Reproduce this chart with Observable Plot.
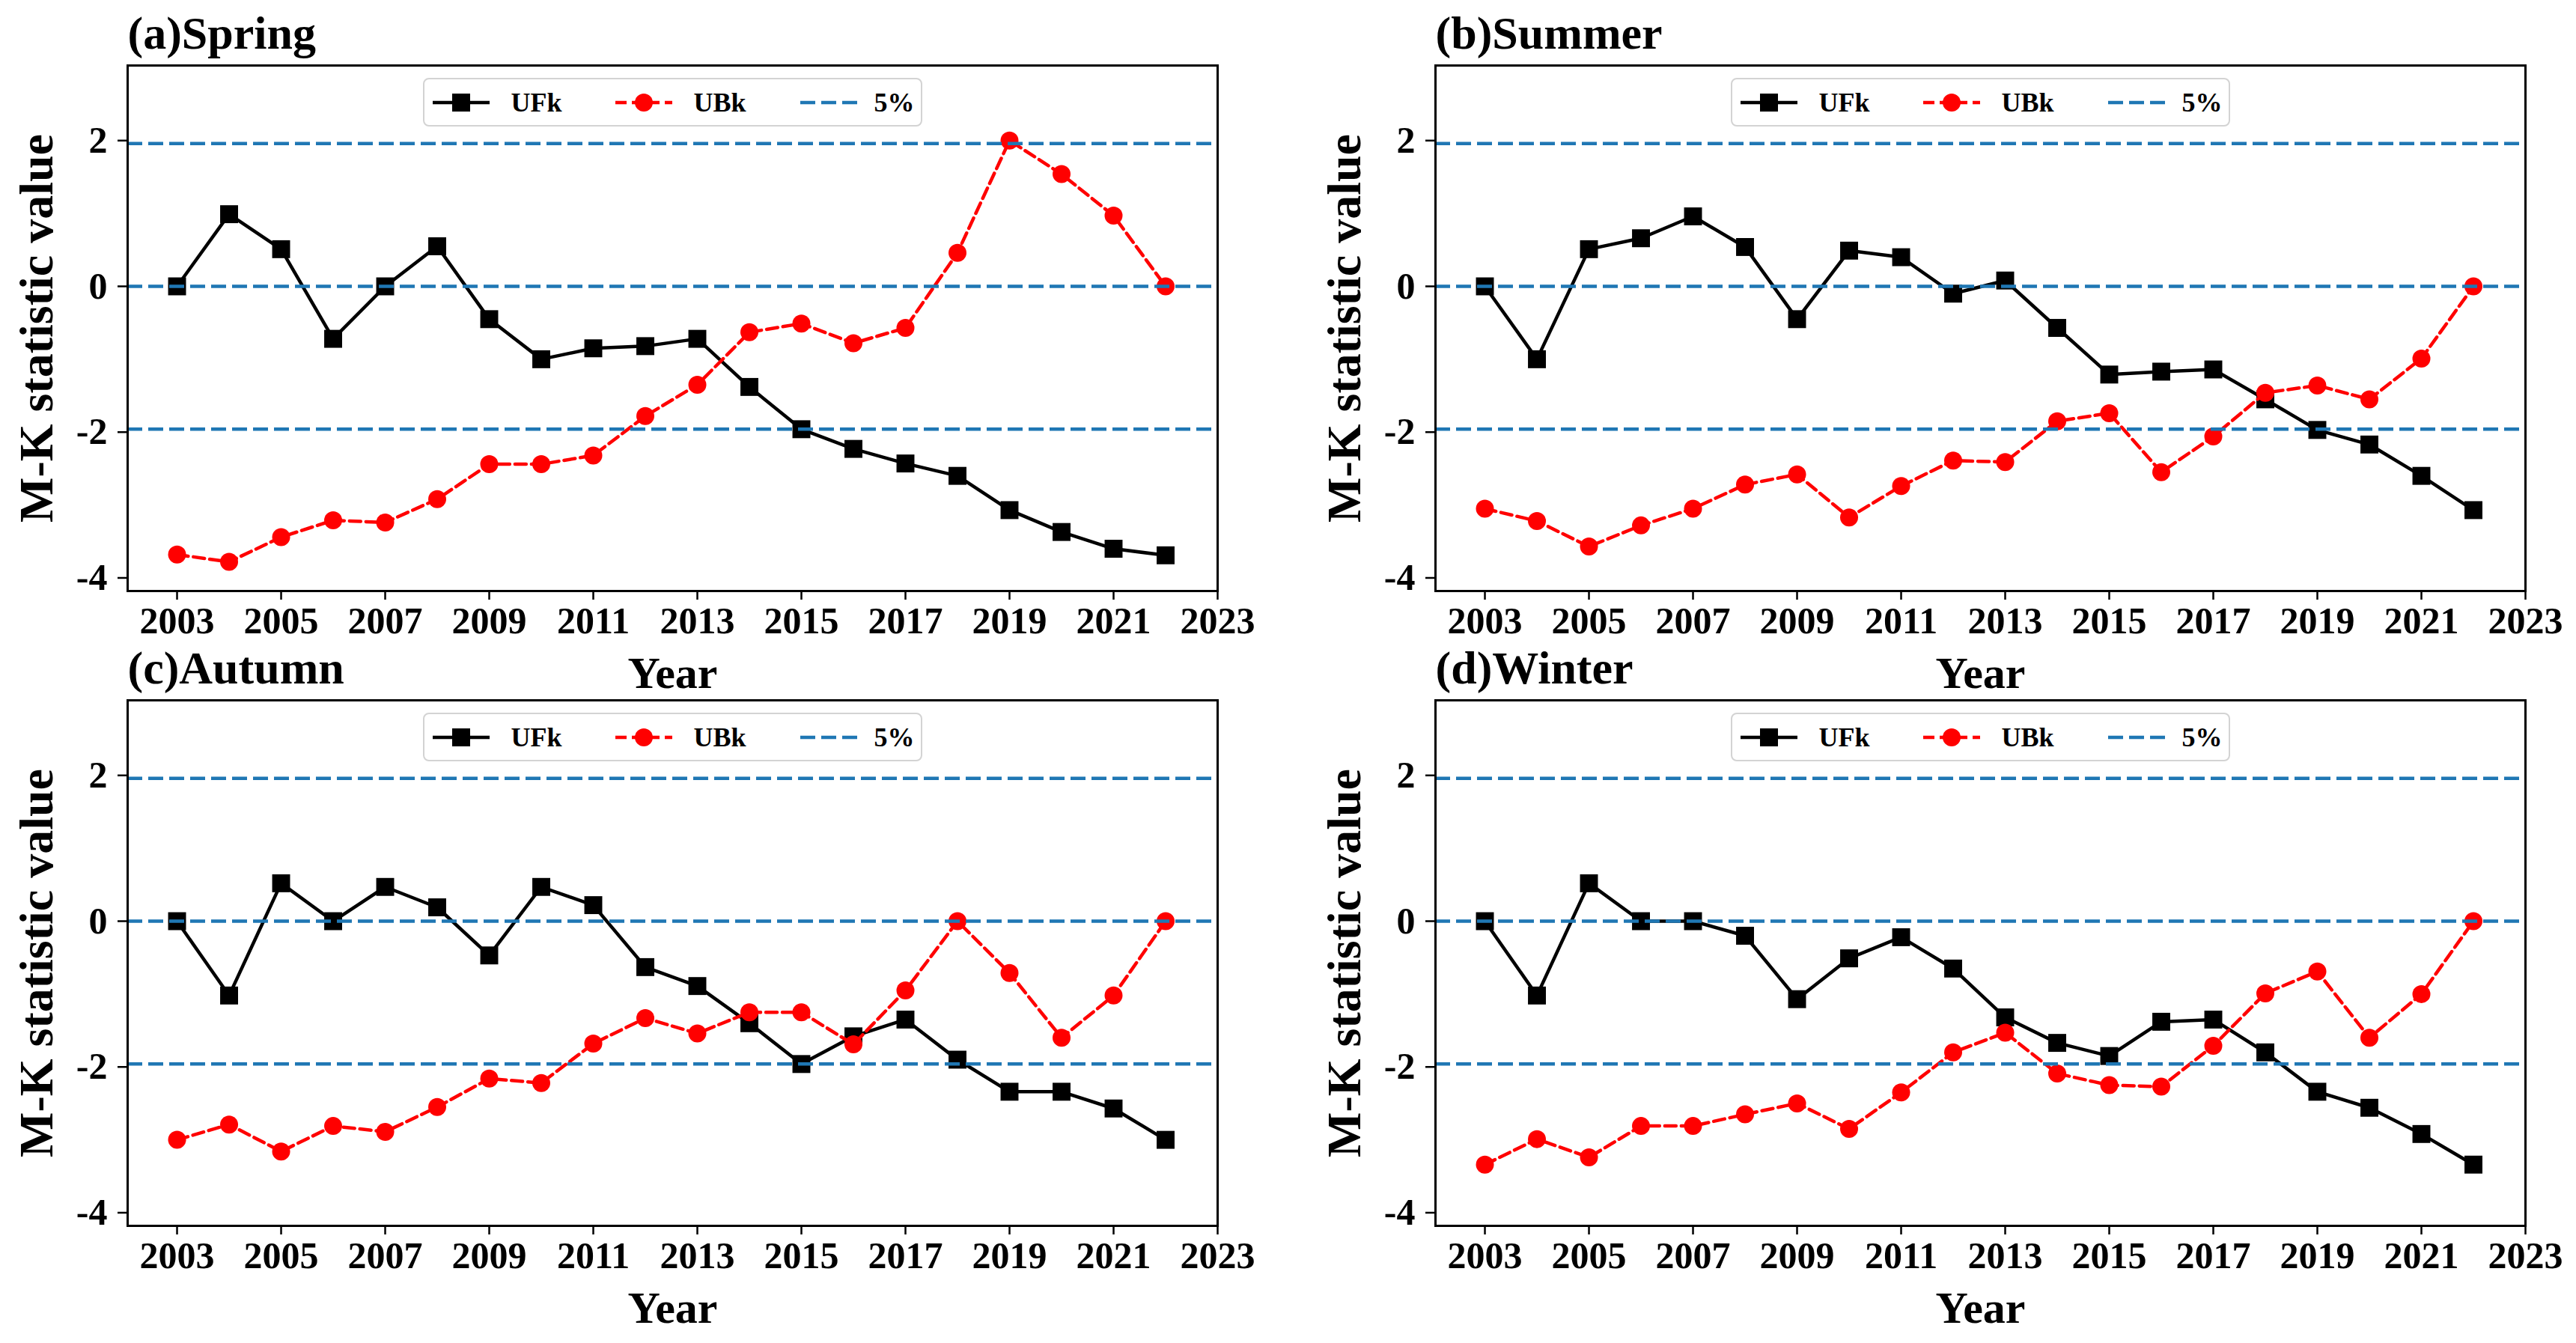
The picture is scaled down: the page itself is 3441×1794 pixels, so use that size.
<!DOCTYPE html>
<html>
<head>
<meta charset="utf-8">
<script src="https://cdn.jsdelivr.net/npm/d3@7"></script>
<script src="https://cdn.jsdelivr.net/npm/@observablehq/plot@0.6"></script>
<style>
  html, body { margin: 0; padding: 0; background: #fff; overflow: hidden; }
  #fig { position: relative; width: 3441px; height: 1794px; background: #fff; }
  .panel { position: absolute; }
  .panel > svg { position: absolute; left: 0; top: 0; }
  .legend {
    position: absolute; box-sizing: border-box; height: 65px; width: 667px;
    border: 2px solid #d3d3d3; border-radius: 8px; background: rgba(255,255,255,0.85);
    display: flex; align-items: center; padding-left: 11px;
    font-family: "Liberation Serif", "Times New Roman", serif; font-weight: bold; font-size: 36px; color: #000;
  }
  .legend .item { display: flex; align-items: center; flex: none; }
  .legend .item svg { flex: none; display: block; }
  .legend .lab { margin-left: 29px; }
</style>
</head>
<body>
<div id="fig"></div>
<script>
// ---- data ----
const years = [2003, 2004, 2005, 2006, 2007, 2008, 2009, 2010, 2011, 2012, 2013, 2014, 2015, 2016, 2017, 2018, 2019, 2020, 2021, 2022];

const springUFk = [0, 0.99, 0.51, -0.72, 0, 0.55, -0.45, -1.0, -0.85, -0.82, -0.72, -1.38, -1.96, -2.23, -2.43, -2.6, -3.07, -3.37, -3.6, -3.69];
const springUBk = [-3.68, -3.78, -3.44, -3.21, -3.24, -2.92, -2.44, -2.44, -2.32, -1.78, -1.35, -0.63, -0.51, -0.78, -0.57, 0.46, 2.0, 1.54, 0.97, 0];

const summerUFk = [0, -1.0, 0.51, 0.66, 0.96, 0.54, -0.45, 0.49, 0.4, -0.1, 0.08, -0.57, -1.21, -1.17, -1.14, -1.55, -1.97, -2.17, -2.6, -3.07];
const summerUBk = [-3.05, -3.22, -3.57, -3.28, -3.05, -2.72, -2.58, -3.17, -2.74, -2.39, -2.41, -1.85, -1.74, -2.55, -2.06, -1.46, -1.36, -1.55, -0.99, 0];

const autumnUFk = [0, -1.02, 0.52, 0, 0.47, 0.19, -0.47, 0.47, 0.22, -0.63, -0.89, -1.4, -1.96, -1.58, -1.35, -1.9, -2.34, -2.34, -2.57, -3.0];
const autumnUBk = [-3.0, -2.79, -3.16, -2.81, -2.89, -2.55, -2.16, -2.22, -1.68, -1.33, -1.54, -1.25, -1.25, -1.69, -0.95, 0, -0.71, -1.6, -1.02, 0];

const winterUFk = [0, -1.02, 0.52, 0, 0, -0.2, -1.07, -0.51, -0.22, -0.65, -1.32, -1.67, -1.85, -1.38, -1.35, -1.8, -2.34, -2.56, -2.92, -3.34];
const winterUBk = [-3.34, -2.99, -3.24, -2.81, -2.81, -2.65, -2.5, -2.85, -2.35, -1.8, -1.53, -2.09, -2.25, -2.27, -1.71, -0.99, -0.69, -1.6, -1.0, 0];

const thresholds = [-1.96, 0, 1.96];
const xTicks = [2003, 2005, 2007, 2009, 2011, 2013, 2015, 2017, 2019, 2021, 2023];
const yTicks = [-4, -2, 0, 2];
const titles = ["(a)Spring", "(b)Summer", "(c)Autumn", "(d)Winter"];
const legendLabels = ["UFk", "UBk", "5%"];
const yLabel = "M-K statistic value";
const xLabel = "Year";

// ---- layout ----
const panels = [
  {title: titles[0], ufk: springUFk, ubk: springUBk, left: 0,    top: 0,   w: 1720, h: 930, ml: 170, mr: 94, mt: 87, mb: 141},
  {title: titles[1], ufk: summerUFk, ubk: summerUBk, left: 1720, top: 0,   w: 1721, h: 930, ml: 197, mr: 68, mt: 87, mb: 141},
  {title: titles[2], ufk: autumnUFk, ubk: autumnUBk, left: 0,    top: 850, w: 1720, h: 944, ml: 170, mr: 94, mt: 85, mb: 157},
  {title: titles[3], ufk: winterUFk, ubk: winterUBk, left: 1720, top: 850, w: 1721, h: 944, ml: 197, mr: 68, mt: 85, mb: 157}
];

const BLUE = "#1f77b4";
const fig = document.getElementById("fig");

function legendSwatch(kind) {
  const ns = "http://www.w3.org/2000/svg";
  const svg = document.createElementNS(ns, "svg");
  svg.setAttribute("width", 76); svg.setAttribute("height", 30);
  const line = document.createElementNS(ns, "line");
  line.setAttribute("x1", 0); line.setAttribute("x2", 76);
  line.setAttribute("y1", 15); line.setAttribute("y2", 15);
  if (kind === 0) {
    line.setAttribute("stroke", "black"); line.setAttribute("stroke-width", 4.5);
    svg.appendChild(line);
    const r = document.createElementNS(ns, "rect");
    r.setAttribute("x", 26); r.setAttribute("y", 3); r.setAttribute("width", 24); r.setAttribute("height", 24);
    r.setAttribute("fill", "black");
    svg.appendChild(r);
  } else if (kind === 1) {
    line.setAttribute("stroke", "red"); line.setAttribute("stroke-width", 4.5);
    line.setAttribute("stroke-dasharray", "15 7");
    svg.appendChild(line);
    const c = document.createElementNS(ns, "circle");
    c.setAttribute("cx", 38); c.setAttribute("cy", 15); c.setAttribute("r", 12);
    c.setAttribute("fill", "red");
    svg.appendChild(c);
  } else {
    line.setAttribute("stroke", BLUE); line.setAttribute("stroke-width", 4.5);
    line.setAttribute("stroke-dasharray", "20 8");
    svg.appendChild(line);
  }
  return svg;
}

panels.forEach(cfg => {
  const rows = years.map((year, i) => ({year, ufk: cfg.ufk[i], ubk: cfg.ubk[i]}));
  const plot = Plot.plot({
    width: cfg.w, height: cfg.h,
    marginLeft: cfg.ml, marginRight: cfg.mr, marginTop: cfg.mt, marginBottom: cfg.mb,
    style: {fontFamily: "'Liberation Serif', 'Times New Roman', serif", fontWeight: "bold", fontSize: "50px", background: "transparent", overflow: "visible", color: "black"},
    x: {type: "linear", domain: [2002.05, 2023], label: null},
    y: {domain: [-4.18, 3.03], label: null},
    marks: [
      Plot.line(rows, {x: "year", y: "ufk", stroke: "black", strokeWidth: 4.5}),
      Plot.dot(rows, {x: "year", y: "ufk", symbol: "square", r: 13.5, fill: "black"}),
      Plot.line(rows, {x: "year", y: "ubk", stroke: "red", strokeWidth: 4.5, strokeDasharray: "15 7"}),
      Plot.dot(rows, {x: "year", y: "ubk", r: 12, fill: "red"}),
      Plot.ruleY(thresholds, {stroke: BLUE, strokeWidth: 4.5, strokeDasharray: "20 8"}),
      Plot.frame({stroke: "black", strokeWidth: 3}),
      Plot.axisX({ticks: xTicks, tickFormat: d => String(d), tickSize: 12, tickPadding: 9, fontSize: 50, strokeWidth: 2.5, label: null}),
      Plot.axisY({ticks: yTicks, tickFormat: d => String(d), tickSize: 13, tickPadding: 14, fontSize: 50, strokeWidth: 2.5, label: null}),
      Plot.text([cfg.title], {frameAnchor: "top-left", text: d => d, textAnchor: "start", lineAnchor: "middle", dy: -42, fontSize: 62, fontWeight: "bold"}),
      Plot.text([yLabel], {frameAnchor: "left", text: d => d, textAnchor: "middle", lineAnchor: "middle", rotate: -90, dx: -121, fontSize: 64, fontWeight: "bold"}),
      Plot.text([xLabel], {frameAnchor: "bottom", text: d => d, textAnchor: "middle", lineAnchor: "middle", dy: 110, fontSize: 60, fontWeight: "bold"})
    ]
  });
  const div = document.createElement("div");
  div.className = "panel";
  div.style.left = cfg.left + "px";
  div.style.top = cfg.top + "px";
  div.style.width = cfg.w + "px";
  div.style.height = cfg.h + "px";
  div.appendChild(plot);

  // legend (matplotlib-style box, top centre inside the axes)
  const plotW = cfg.w - cfg.ml - cfg.mr;
  const lg = document.createElement("div");
  lg.className = "legend";
  lg.style.left = (cfg.ml + (plotW - 667) / 2) + "px";
  lg.style.top = (cfg.mt + 17) + "px";
  legendLabels.forEach((lab, k) => {
    const item = document.createElement("div");
    item.className = "item";
    if (k > 0) item.style.marginLeft = (k === 1 ? 71 : 72) + "px";
    item.appendChild(legendSwatch(k));
    const t = document.createElement("span");
    t.className = "lab";
    if (k === 2) t.style.marginLeft = "23px";
    t.textContent = lab;
    item.appendChild(t);
    lg.appendChild(item);
  });
  div.appendChild(lg);
  fig.appendChild(div);
});
</script>
</body>
</html>
